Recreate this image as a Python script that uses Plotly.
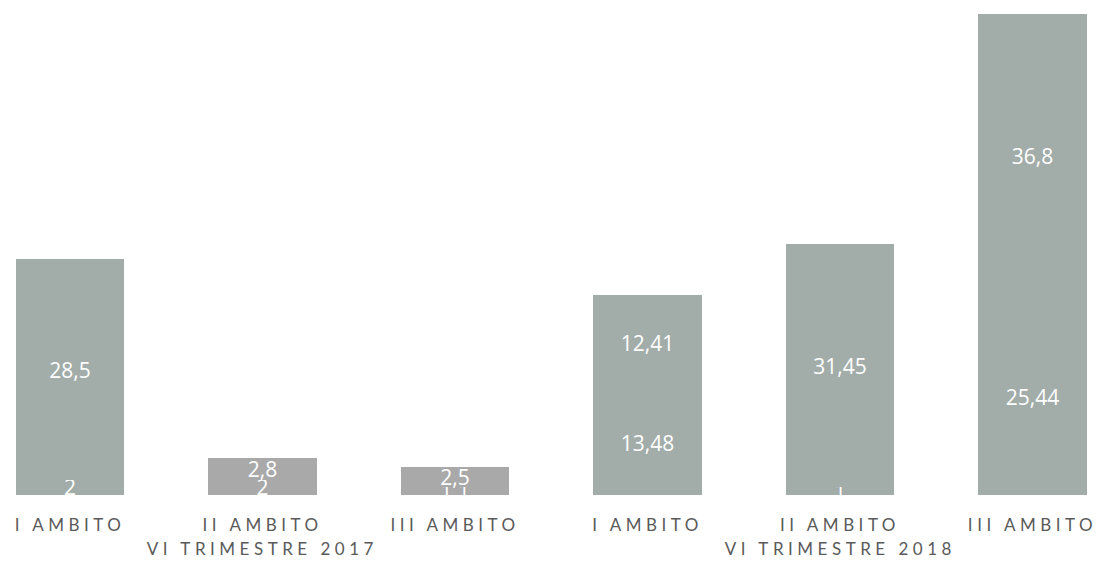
import plotly.graph_objects as go

periods = ["VI TRIMESTRE 2017"] * 3 + ["VI TRIMESTRE 2018"] * 3
ambiti = ["I AMBITO", "II AMBITO", "III AMBITO", "I AMBITO", "II AMBITO", "III AMBITO"]
bottom_vals = [2, 2, 1.1, 13.48, 1, 25.44]
top_vals = [28.5, 2.8, 2.5, 12.41, 31.45, 36.8]
bar_colors = ["#a2aca9", "#a9a9a9", "#a9a9a9", "#a2aca9", "#a2aca9", "#a2aca9"]

idx = list(range(len(ambiti)))

fig = go.Figure()
for vals in (bottom_vals, top_vals):
    fig.add_trace(go.Bar(
        x=idx, y=vals,
        marker=dict(color=bar_colors, line=dict(width=0)),
        texttemplate="%{y}",
        textposition="inside",
        insidetextanchor="middle",
        constraintext="none",
        textangle=0,
        textfont=dict(color="white", size=21, family="Open Sans"),
        width=0.565,
        showlegend=False,
        hoverinfo="skip",
    ))

# group labels, centered under each group of categories
for p in dict.fromkeys(periods):
    members = [i for i, q in zip(idx, periods) if q == p]
    fig.add_annotation(
        x=sum(members) / len(members), xref="x",
        y=-0.109, yref="paper", yanchor="middle",
        text=p, showarrow=False,
        font=dict(family="Lato", size=17, color="#5a5a5a"),
    )

fig.update_layout(
    barmode="stack",
    separators=",.",
    width=1096, height=578,
    margin=dict(l=0, r=0, t=0, b=83),
    plot_bgcolor="white", paper_bgcolor="white",
    xaxis=dict(
        range=[-0.364, 5.33],
        tickmode="array", tickvals=idx, ticktext=ambiti,
        showline=False, showgrid=False, zeroline=False,
        ticklabelstandoff=18,
        tickfont=dict(family="Lato", size=17, color="#5a5a5a"),
    ),
    yaxis=dict(
        range=[0, 64.1], visible=False, showgrid=False, zeroline=False,
    ),
)

post = """
var s = document.createElement('style');
s.innerHTML = 'html, body { margin: 0; padding: 0; overflow: hidden; } .xtick text, .annotation-text { letter-spacing: 4.5px; font-weight: 300; }';
document.head.appendChild(s);
"""
fig.write_html("out.html", post_script=post, config={"displayModeBar": False})
